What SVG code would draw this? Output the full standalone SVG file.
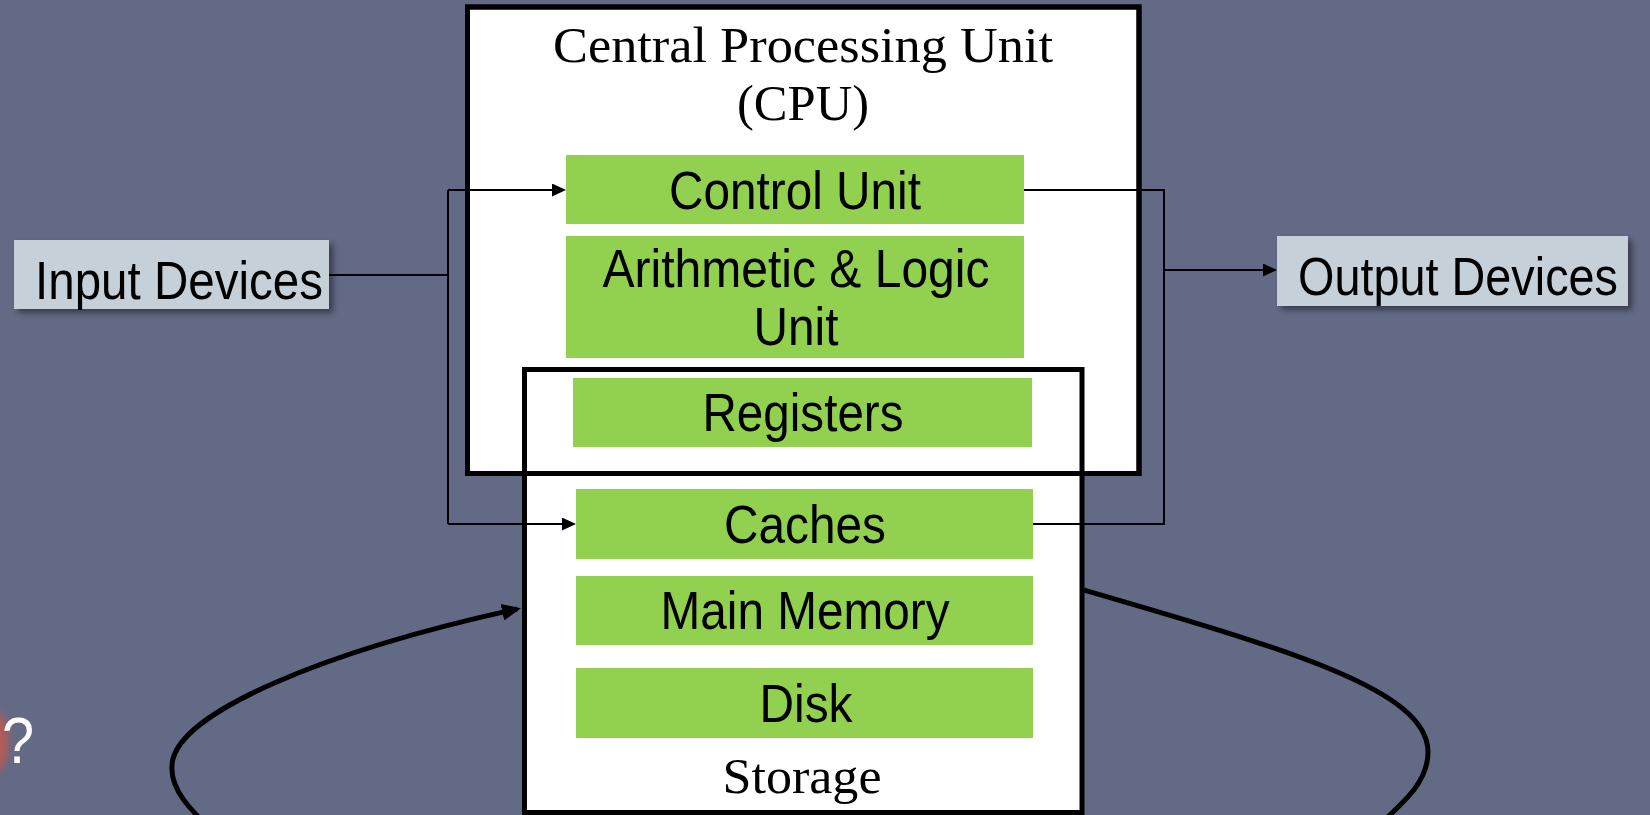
<svg xmlns="http://www.w3.org/2000/svg" width="1650" height="815" viewBox="0 0 1650 815">
<defs>
<style>
.sans{font-family:"Liberation Sans",Arial,sans-serif;font-size:53px;fill:#000}
.serif{font-family:"Liberation Serif","Times New Roman",serif;font-size:51px;fill:#000}
.green{fill:#92D050}
.io{fill:#C5D0D8}
.box{fill:#fff;stroke:#000;stroke-width:5}
.thin{fill:none;stroke:#000;stroke-width:2}
.thick{fill:none;stroke:#000;stroke-width:5}
</style>
<filter id="shadow" x="-10%" y="-20%" width="130%" height="160%">
<feDropShadow dx="4" dy="4" stdDeviation="3" flood-color="#000" flood-opacity="0.45"/>
</filter>
<filter id="blur" x="-100%" y="-100%" width="300%" height="300%">
<feGaussianBlur stdDeviation="4"/>
</filter>
<marker id="arr" markerUnits="userSpaceOnUse" markerWidth="14" markerHeight="13" refX="12" refY="6.5" orient="auto">
<path d="M0,0 L14,6.5 L0,13 z" fill="#000"/>
</marker>
<marker id="arrBig" markerUnits="userSpaceOnUse" markerWidth="19" markerHeight="17" refX="15" refY="8.5" orient="auto">
<path d="M0,0 L19,8.5 L0,17 z" fill="#000"/>
</marker>
</defs>
<rect x="0" y="0" width="1650" height="815" fill="#636A85"/>

<g id="question">
<ellipse cx="-4" cy="742" rx="12" ry="30" fill="#b85a52" filter="url(#blur)"/>
<text x="2" y="763" style="font-family:'Liberation Sans',Arial,sans-serif;font-size:64px;fill:#fff" textLength="32" lengthAdjust="spacingAndGlyphs">?</text>
</g>

<g id="cpu">
<rect class="box" x="467.5" y="7" width="671.5" height="466.5"/>
</g>

<g id="storage">
<rect class="box" x="524.5" y="369.5" width="557.5" height="443"/>
<text class="serif" x="802" y="793" text-anchor="middle" textLength="159" lengthAdjust="spacingAndGlyphs">Storage</text>
</g>

<g id="cpu-outline">
<rect x="467.5" y="7" width="671.5" height="466.5" fill="none" stroke="#000" stroke-width="5"/>
<text class="serif" x="803" y="62" text-anchor="middle" textLength="500" lengthAdjust="spacingAndGlyphs">Central Processing Unit</text>
<text class="serif" x="803" y="120" text-anchor="middle" textLength="132" lengthAdjust="spacingAndGlyphs">(CPU)</text>
</g>

<g id="control-unit">
<rect class="green" x="566" y="155" width="458" height="69"/>
<text class="sans" x="795" y="209" text-anchor="middle" textLength="252" lengthAdjust="spacingAndGlyphs">Control Unit</text>
</g>

<g id="alu">
<rect class="green" x="566" y="236" width="458" height="122"/>
<text class="sans" x="796" y="287" text-anchor="middle" textLength="387" lengthAdjust="spacingAndGlyphs">Arithmetic &amp; Logic</text>
<text class="sans" x="796" y="345" text-anchor="middle" textLength="85" lengthAdjust="spacingAndGlyphs">Unit</text>
</g>

<g id="registers">
<rect class="green" x="573" y="378" width="459" height="69"/>
<text class="sans" x="803" y="431" text-anchor="middle" textLength="201" lengthAdjust="spacingAndGlyphs">Registers</text>
</g>

<g id="caches">
<rect class="green" x="576" y="489" width="457" height="70"/>
<text class="sans" x="805" y="543" text-anchor="middle" textLength="162" lengthAdjust="spacingAndGlyphs">Caches</text>
</g>

<g id="main-memory">
<rect class="green" x="576" y="576" width="457" height="69"/>
<text class="sans" x="805" y="629" text-anchor="middle" textLength="289" lengthAdjust="spacingAndGlyphs">Main Memory</text>
</g>

<g id="disk">
<rect class="green" x="576" y="668" width="457" height="70"/>
<text class="sans" x="806" y="722" text-anchor="middle" textLength="93" lengthAdjust="spacingAndGlyphs">Disk</text>
</g>

<g id="input-devices">
<rect class="io" x="14" y="240" width="315" height="69" filter="url(#shadow)"/>
<text class="sans" x="35" y="299" textLength="288" lengthAdjust="spacingAndGlyphs">Input Devices</text>
</g>

<g id="output-devices">
<rect class="io" x="1277" y="236" width="351" height="70" filter="url(#shadow)"/>
<text class="sans" x="1298" y="295" textLength="320" lengthAdjust="spacingAndGlyphs">Output Devices</text>
</g>

<g id="connectors">
<path class="thin" d="M329,275 H448"/>
<path class="thin" d="M448,190 V524"/>
<path class="thin" d="M448,190 H564" marker-end="url(#arr)"/>
<path class="thin" d="M448,524 H574" marker-end="url(#arr)"/>
<path class="thin" d="M1024,190 H1164 V524 H1033"/>
<path class="thin" d="M1164,270 H1275" marker-end="url(#arr)"/>
<path class="thick" d="M1084,590 C1290,650 1428,690 1428,752 C1428,785 1400,805 1365,838"/>
<path class="thick" d="M222,840 C190,810 170,790 172,765 C175,712 330,650 517,609" marker-end="url(#arrBig)"/>
</g>
</svg>
